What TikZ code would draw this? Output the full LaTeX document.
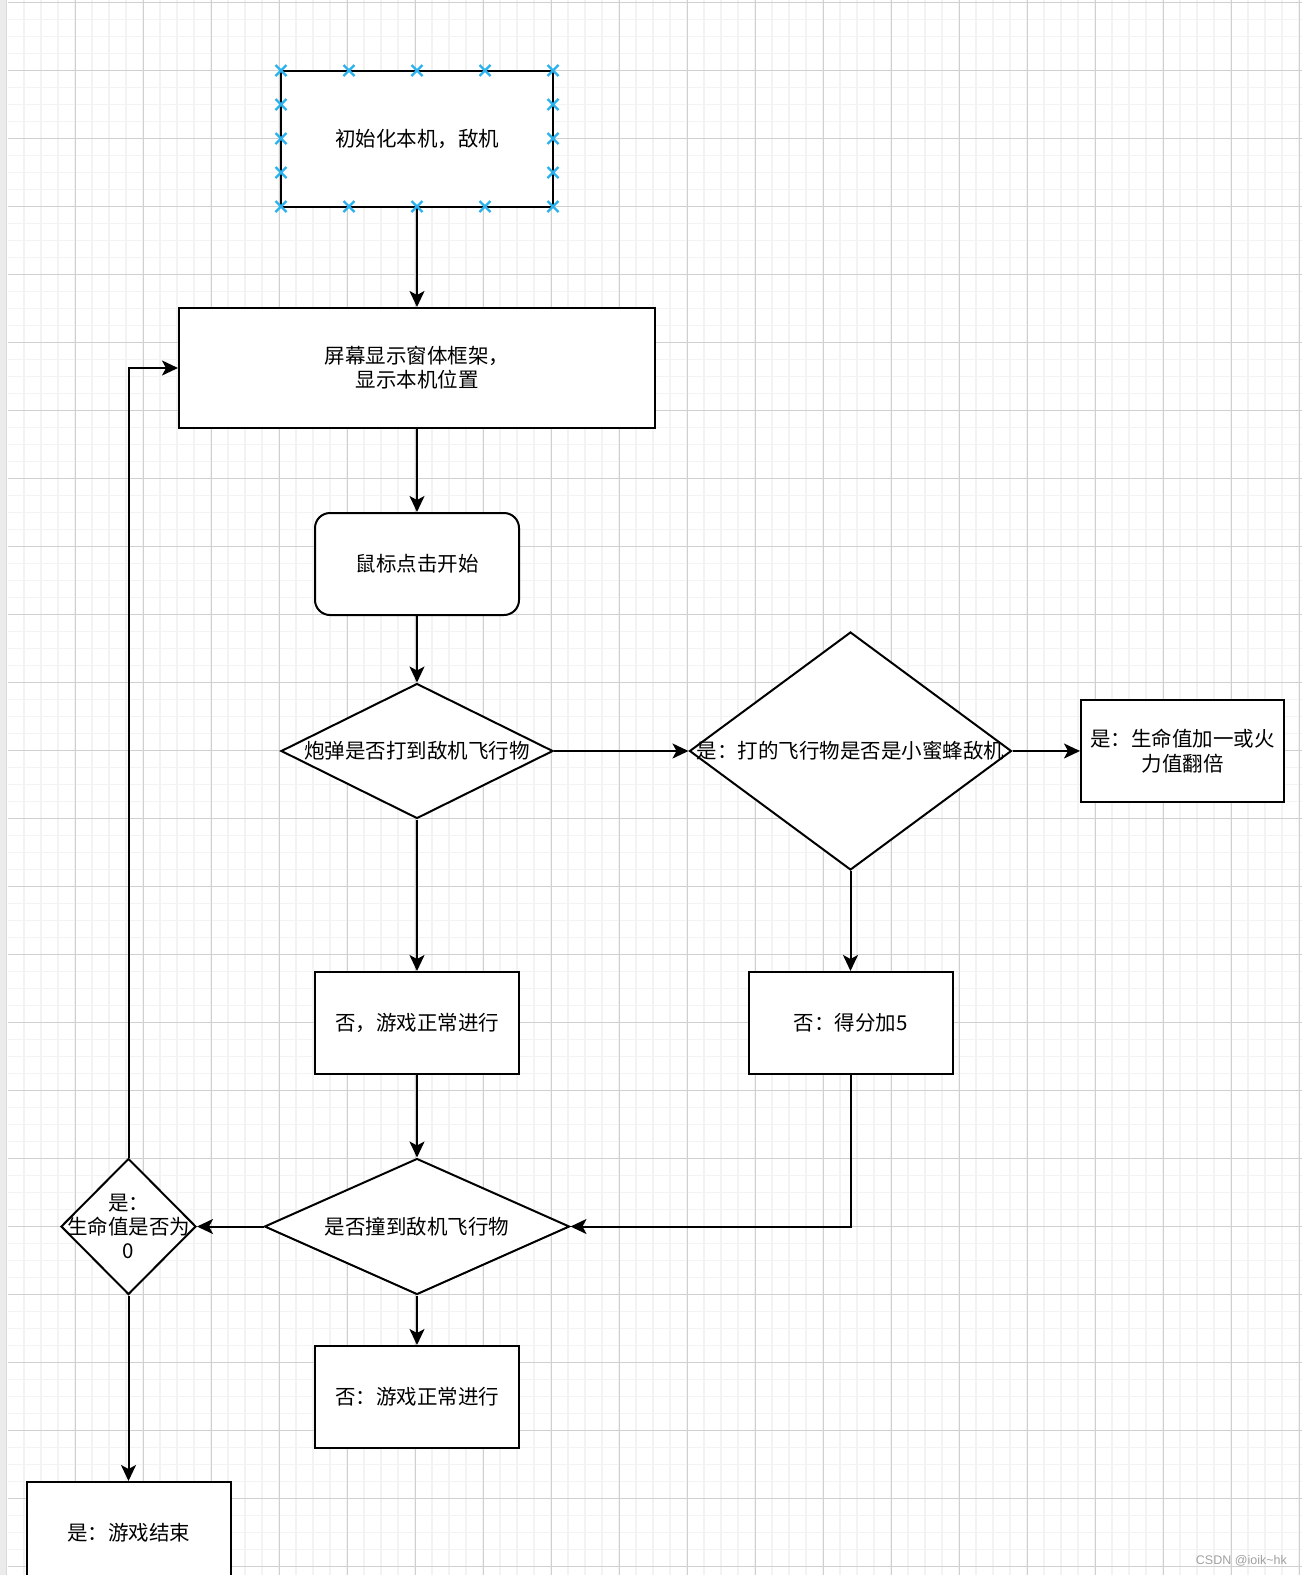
\documentclass[tikz,border=0pt]{standalone}
\usepackage{fontspec}
\setmainfont{Noto Sans CJK SC}
\newfontfamily\wmfont{Liberation Sans}
\usetikzlibrary{arrows.meta,shapes.geometric}
\definecolor{minorgrid}{RGB}{243,243,243}
\definecolor{majorgrid}{RGB}{208,208,208}
\definecolor{selblue}{RGB}{41,178,238}
\definecolor{wmgray}{RGB}{160,160,160}
\tikzset{
  box/.style={draw, line width=2pt, fill=white, inner sep=0pt, align=center,
    font=\fontsize{20.5}{24.3}\selectfont},
  dia/.style={draw, diamond, line width=2pt, fill=white, inner sep=0pt, aspect=1},
  txt/.style={inner sep=0pt, align=center, font=\fontsize{20.5}{24.3}\selectfont},
  conn/.style={line width=2pt, -{Stealth[length=16pt,width=15pt,inset=4pt]}},
  selx/.style={draw=selblue, line width=2.3pt}
}
\begin{document}
\begin{tikzpicture}[x=1pt,y=-1pt]
\useasboundingbox (0,0) rectangle (1302,1575);
\fill[white] (0,0) rectangle (1302,1575);
% left strip
\fill[black!8] (0,0) rectangle (7,1575);
\draw[black!15, line width=1pt] (6.5,0) -- (6.5,1575);
% minor grid
\foreach \k in {1,...,76} {
  \pgfmathsetmacro{\xx}{7+17*\k}
  \draw[minorgrid, line width=1.5pt] (\xx,0) -- (\xx,1575);
}
\foreach \k in {0,...,92} {
  \pgfmathsetmacro{\yy}{2.3+17*\k}
  \draw[minorgrid, line width=1.5pt] (8,\yy) -- (1302,\yy);
}
% major grid
\foreach \k in {1,...,19} {
  \pgfmathsetmacro{\xx}{7+68*\k}
  \draw[majorgrid, line width=1pt] (\xx,0) -- (\xx,1575);
}
\foreach \k in {0,...,23} {
  \pgfmathsetmacro{\yy}{2.3+68*\k}
  \draw[majorgrid, line width=1pt] (8,\yy) -- (1302,\yy);
}

% nodes
\node[box, minimum width=272pt, minimum height=136pt] (b1) at (417,138.5) {初始化本机，敌机};
\node[box, minimum width=476pt, minimum height=120pt] (b2) at (417,368) {屏幕显示窗体框架，\\显示本机位置};
\node[box, rounded corners=15pt, minimum width=204pt, minimum height=102pt] (r) at (417,564) {鼠标点击开始};
\node[dia, minimum width=272pt, minimum height=135pt, label={[txt]center:炮弹是否打到敌机飞行物}] (d1) at (417,751) {};
\node[dia, minimum width=322pt, minimum height=238pt, label={[txt]center:是：打的飞行物是否是小蜜蜂敌机}] (d2) at (850.5,751) {};
\node[box, minimum width=203pt, minimum height=102pt] (bR) at (1182.5,751) {是：生命值加一或火\\力值翻倍};
\node[box, minimum width=204pt, minimum height=102pt] (bN1) at (417,1023) {否，游戏正常进行};
\node[box, minimum width=204pt, minimum height=102pt] (b5) at (850.5,1023) {否：得分加5};
\node[dia, minimum width=305pt, minimum height=136pt, label={[txt]center:是否撞到敌机飞行物}] (d3) at (417,1226.5) {};
\node[dia, minimum width=135pt, minimum height=136pt, label={[txt]center:是：\\生命值是否为\\0}] (d4) at (128.5,1226.5) {};
\node[box, minimum width=204pt, minimum height=102pt] (bN2) at (417,1397) {否：游戏正常进行};
\node[box, minimum width=204pt, minimum height=102pt] (bE) at (128.5,1533) {是：游戏结束};

% connectors
\draw[conn] (b1.south) -- (b2.north);
\draw[conn] (b2.south) -- (r.north);
\draw[conn] (r.south) -- (d1.north);
\draw[conn] (d1.east) -- (d2.west);
\draw[conn] (d2.east) -- (bR.west);
\draw[conn] (d1.south) -- (bN1.north);
\draw[conn] (d2.south) -- (b5.north);
\draw[conn] (bN1.south) -- (d3.north);
\draw[conn] (b5.south) |- (d3.east);
\draw[conn] (d3.west) -- (d4.east);
\draw[conn] (d4.north) |- (b2.west);
\draw[conn] (d4.south) -- (bE.north);
\draw[conn] (d3.south) -- (bN2.north);

% selection markers
\foreach \x in {281,349,417,485,553} {
  \foreach \y in {70.5,206.5} {
    \draw[selx] (\x-5.5,\y-5.5) -- (\x+5.5,\y+5.5) (\x-5.5,\y+5.5) -- (\x+5.5,\y-5.5);
  }
}
\foreach \x in {281,553} {
  \foreach \y in {104.5,138.5,172.5} {
    \draw[selx] (\x-5.5,\y-5.5) -- (\x+5.5,\y+5.5) (\x-5.5,\y+5.5) -- (\x+5.5,\y-5.5);
  }
}

% watermark
\node[anchor=base east, inner sep=0pt, text=wmgray, font=\wmfont\fontsize{12.5}{14}\selectfont] (wm) at (1287,1564) {CSDN @ioik\textasciitilde hk};
\end{tikzpicture}
\end{document}
